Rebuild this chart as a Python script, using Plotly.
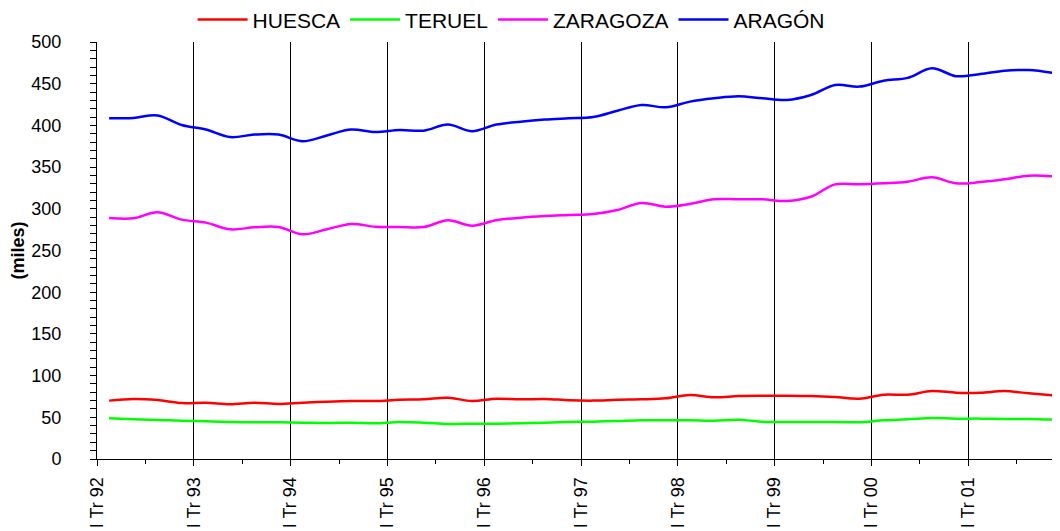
import plotly.graph_objects as go

roman = ["I", "II", "III", "IV"]
years = ["92", "93", "94", "95", "96", "97", "98", "99", "00", "01"]
quarters = [f"{r} Tr {y}" for y in years for r in roman]

huesca = [70, 72, 70.7, 67.1, 67.5, 65.6, 67.5, 66, 67.5, 68.7,
          69.5, 69.5, 71, 71.5, 73.5, 69.5, 72.3, 71.5, 72, 70.5,
          70, 71, 71.5, 72.7, 76.7, 74, 75.5, 75.9, 75.9, 75.5,
          74.3, 72.3, 77.1, 77.1, 81.5, 79.5, 79.5, 81.5, 78.7, 76.3]
teruel = [48.8, 47.6, 46.8, 46, 45.2, 44.4, 44, 44, 43.6, 43.2,
          43.6, 42.8, 44.4, 43.6, 42, 42.4, 42.4, 42.8, 43.6, 44.4,
          44.8, 45.6, 46.4, 46.4, 46.4, 46, 47.2, 44.8, 44.4, 44.4,
          44.4, 44, 46.4, 47.6, 49.2, 48.4, 48.4, 48, 48, 47.2]
zaragoza = [289, 288.6, 295.8, 287, 283.4, 275.4, 277.8, 278.2, 269.4, 275.4,
            281.8, 278.5, 278.2, 278.2, 286.2, 279.8, 286.2, 289.4, 291.4, 292.6,
            293.8, 298.6, 307, 302.5, 305.8, 311.4, 311.4, 311.4, 309.4, 314.5,
            329.3, 329.3, 330.5, 332.5, 337.7, 330.5, 332, 335.3, 339.7, 339]
aragon = [408.5, 409, 412, 400.5, 395, 386, 389, 389, 381, 388,
          395, 392, 394.5, 393.7, 401, 393, 401, 404.5, 407, 408.5,
          410, 417.6, 424.5, 421.7, 428.5, 432.5, 435, 432.5, 430.5, 436.5,
          448.5, 446.5, 453.6, 457, 468.5, 459, 461.6, 465.6, 466.4, 463]

series = [("HUESCA", huesca, "#ff0000"),
          ("TERUEL", teruel, "#00ff00"),
          ("ZARAGOZA", zaragoza, "#ff00ff"),
          ("ARAGÓN", aragon, "#0000ff")]

xpos = list(range(len(quarters)))
year_ticks = [i - 0.5 for i in range(0, len(quarters), 4)]
year_text = [quarters[i] for i in range(0, len(quarters), 4)]
mid_ticks = [i - 0.5 for i in range(2, len(quarters), 4)]

fig = go.Figure()
for name, vals, col in series:
    fig.add_trace(go.Scatter(
        x=xpos, y=vals, name=name, mode="lines",
        line=dict(color=col, width=2.5, shape="spline", smoothing=1.0),
        hovertext=quarters,
    ))

font_family = "Liberation Sans, Arial, sans-serif"

fig.update_layout(
    width=1060, height=531,
    margin=dict(l=89, r=8, t=34, b=80, autoexpand=False),
    paper_bgcolor="white", plot_bgcolor="white",
    font=dict(family=font_family, size=18, color="black"),
    showlegend=True,
    legend=dict(orientation="h", x=0.43, xanchor="center", y=1.053, yanchor="middle",
                font=dict(size=21), bgcolor="rgba(0,0,0,0)",
                itemwidth=50, tracegroupgap=0),
    xaxis=dict(
        range=[-0.5, 39.29], tickmode="array", tickvals=year_ticks, ticktext=year_text,
        tickangle=-90, ticks="outside", ticklen=6, tickcolor="black", tickwidth=1,
        ticklabelstandoff=4, automargin=False,
        showgrid=True, gridcolor="black", gridwidth=1,
        showline=True, linecolor="black", linewidth=1,
        zeroline=False,
        minor=dict(tickmode="array", tickvals=mid_ticks, ticks="outside", ticklen=4,
                   tickcolor="black", tickwidth=1, showgrid=False),
        tickfont=dict(size=18),
    ),
    yaxis=dict(
        range=[0, 500], tickmode="linear", tick0=0, dtick=50,
        ticks="outside", ticklen=6, tickcolor="black", tickwidth=1,
        ticklabelstandoff=25, automargin=False,
        showgrid=False, zeroline=False,
        showline=True, linecolor="black", linewidth=1,
        minor=dict(dtick=10, ticks="outside", ticklen=6, tickcolor="black", tickwidth=1,
                   showgrid=False),
        title=dict(text="<b>(miles)</b>", standoff=7, font=dict(size=18)),
        tickfont=dict(size=18),
    ),
    xaxis2=dict(
        overlaying="x", matches="x", anchor="y", side="bottom",
        tickmode="array", tickvals=year_ticks, ticks="inside", ticklen=0,
        showticklabels=False, showgrid=False, zeroline=False, showline=False,
        automargin=False,
        minor=dict(tickmode="array", tickvals=mid_ticks, ticks="inside", ticklen=4,
                   tickcolor="black", tickwidth=1, showgrid=False),
    ),
    yaxis2=dict(
        overlaying="y", matches="y", anchor="x", side="left",
        tickmode="linear", tick0=0, dtick=50, automargin=False,
        ticks="inside", ticklen=6, tickcolor="black", tickwidth=1,
        showticklabels=False, showgrid=False, zeroline=False, showline=False,
        minor=dict(dtick=10, ticks="inside", ticklen=6, tickcolor="black", tickwidth=1,
                   showgrid=False),
    ),
)

fig.write_html("out.html")
